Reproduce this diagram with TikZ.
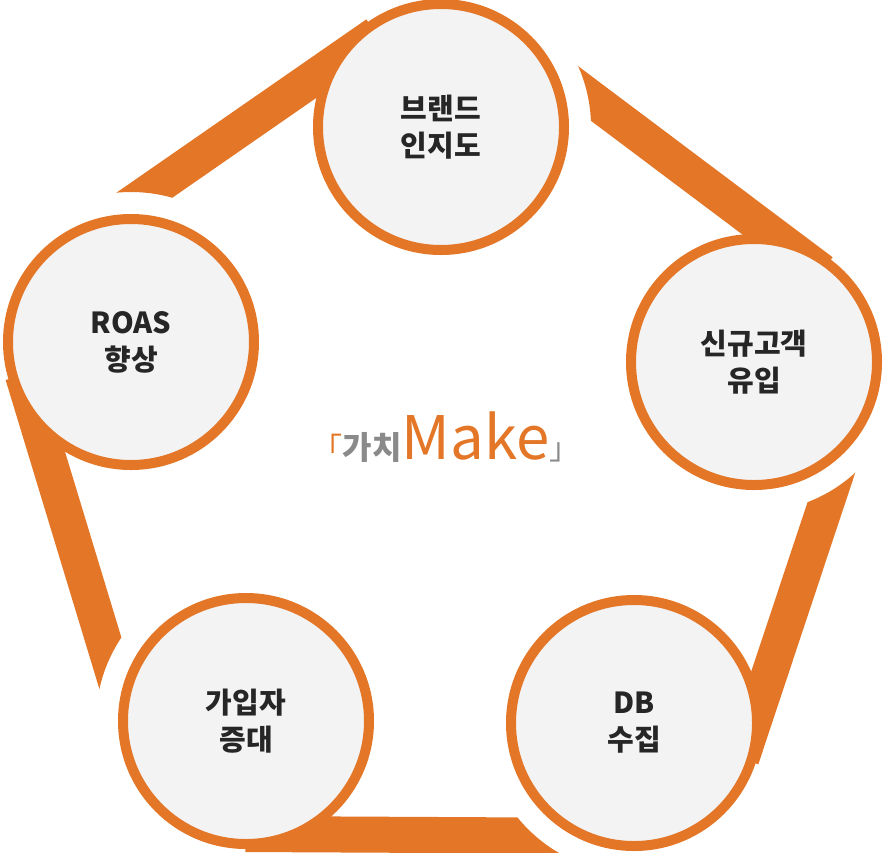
\documentclass[tikz,border=0pt]{standalone}
\usepackage{fontspec}
\setmainfont{Noto Sans CJK KR}
\usetikzlibrary{calc}
\definecolor{brandorange}{HTML}{E37627}
\definecolor{discfill}{HTML}{F3F3F3}
\definecolor{logogray}{HTML}{8A8A8A}
\begin{document}
\begin{tikzpicture}[x=1pt,y=-1pt,
    stage/.style={circle, draw=brandorange, line width=10pt, fill=discfill, minimum size=246pt, inner sep=0pt, align=center, font=\fontsize{29}{37}\selectfont\bfseries, text=black!85},
    band/.style={fill=brandorange}
]
    \useasboundingbox (0,0) rectangle (883,852);

    % Stufen im Uhrzeigersinn
    \coordinate (roas) at (131,342);
    \coordinate (brand) at (441,127);
    \coordinate (newc) at (754,362);
    \coordinate (db) at (634,723);
    \coordinate (join) at (246,721);

    % Baender zwischen den Stufen
    \foreach \from/\to in {roas/brand, brand/newc, newc/db, db/join, join/roas} {
        \begin{scope}[even odd rule]
            \clip (-100,-100) rectangle (1000,1000) (\from) circle (150);
            \fill[band] ($(\from)!95pt!90:(\to)$) -- ($(\from)!131pt!90:(\to)$)
                -- ($(\to)!131pt!-90:(\from)$) -- ($(\to)!95pt!-90:(\from)$) -- cycle;
        \end{scope}
    }

    % Kreise
    \node[stage] (roasn) at (roas) {ROAS\\향상};
    \node[stage] (brandn) at (brand) {브랜드\\인지도};
    \node[stage] (newcn) at (newc) {신규고객\\유입};
    \node[stage] (dbn) at (db) {DB\\수집};
    \node[stage] (joinn) at (join) {가입자\\증대};

    % Logo
    \node[font=\fontsize{60}{60}\selectfont, inner sep=0pt] (logo) at (446,437)
        {\textcolor{brandorange}{\fontsize{30}{30}\selectfont 「}\textcolor{logogray}{\fontsize{32}{32}\selectfont\bfseries 가치}\textcolor{brandorange}{Make}\textcolor{logogray}{\fontsize{30}{30}\selectfont 」}};
\end{tikzpicture}
\end{document}
